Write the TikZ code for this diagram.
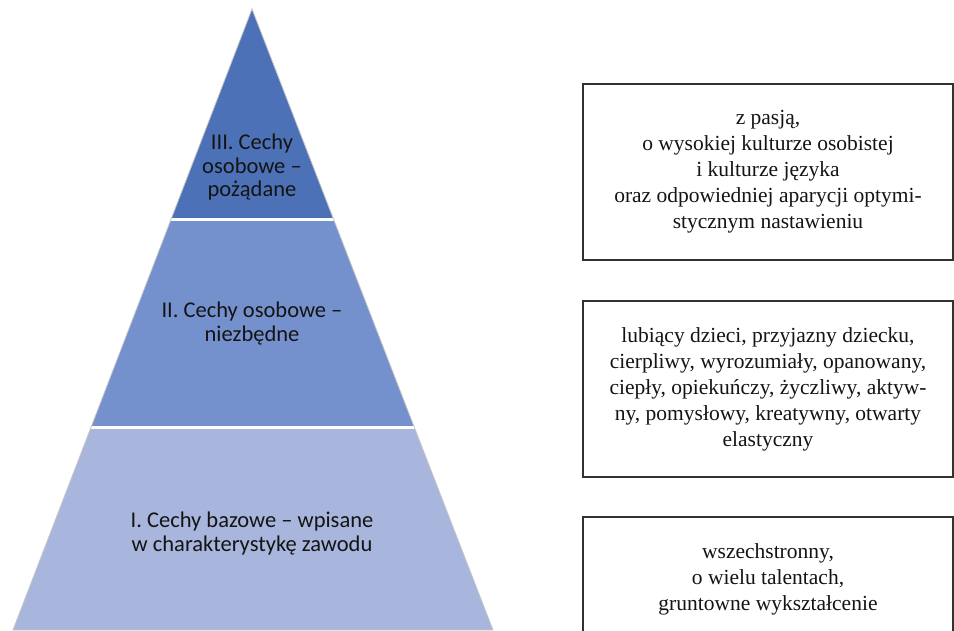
\documentclass[tikz,border=0pt]{standalone}
\usepackage{fontspec}
\setmainfont{Liberation Serif}
\newfontfamily\calibri{Carlito}
\definecolor{tierA}{RGB}{76,113,182}
\definecolor{tierB}{RGB}{117,145,205}
\definecolor{tierC}{RGB}{168,181,220}
\definecolor{boxline}{RGB}{50,50,50}
\tikzset{
  pyrtext/.style={align=center, text=black!92, font=\calibri\fontsize{22.5}{23.5}\selectfont, inner sep=0pt},
  infobox/.style={draw=boxline, line width=1.1pt, minimum width=370pt, align=center, text=black!92, font=\fontsize{21.5}{26}\selectfont, inner sep=0pt},
}
\begin{document}
\begin{tikzpicture}[x=1pt,y=-1pt]
\useasboundingbox (0,0) rectangle (954,630);
\clip (0,0) rectangle (954,630);
\fill[white] (0,0) rectangle (954,630);
% pyramid
\coordinate (apex) at (252,9);
\coordinate (bl) at (13,630);
\coordinate (br) at (493,630);
\begin{scope}
\clip (apex) -- (bl) -- (br) -- cycle;
\fill[tierA] (0,0) rectangle (954,219.5);
\fill[tierB] (0,219.5) rectangle (954,427);
\fill[tierC] (0,427) rectangle (954,640);
\draw[white, line width=3pt] (0,219.5) -- (954,219.5);
\draw[white, line width=3pt] (0,427) -- (954,427);
\end{scope}
\draw[black!22, line width=0.8pt] (apex) -- (bl) -- (br) -- cycle;
\node[pyrtext] (t3) at (252,167) {III. Cechy\\osobowe –\\pożądane};
\node[pyrtext] (t2) at (252,323.5) {II. Cechy osobowe –\\niezbędne};
\node[pyrtext] (t1) at (252,533.5) {I. Cechy bazowe – wpisane\\w charakterystykę zawodu};
% boxes
\node[infobox, minimum height=176pt] (b1) at (768,172) {z pasją,\\o wysokiej kulturze osobistej\\i kulturze języka\\oraz odpowiedniej aparycji optymi-\\stycznym nastawieniu};
\node[infobox, minimum height=176pt] (b2) at (768,389) {lubiący dzieci, przyjazny dziecku,\\cierpliwy, wyrozumiały, opanowany,\\ciepły, opiekuńczy, życzliwy, aktyw-\\ny, pomysłowy, kreatywny, otwarty\\elastyczny};
\node[infobox, minimum height=124pt] (b3) at (768,579) {wszechstronny,\\o wielu talentach,\\gruntowne wykształcenie};
\end{tikzpicture}
\end{document}
